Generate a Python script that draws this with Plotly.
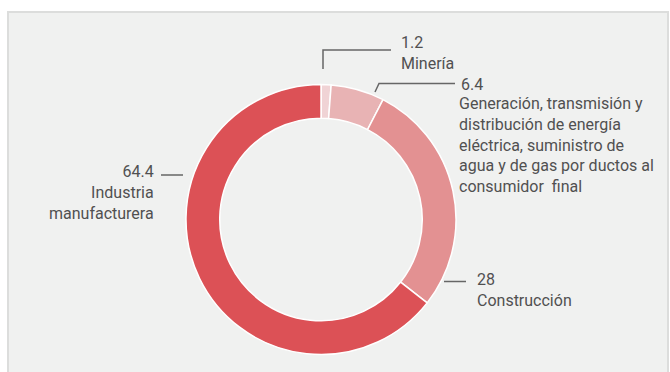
import plotly.graph_objects as go

# Participación por sector (%)
sectores = [
    "Minería",
    "Generación, transmisión y distribución de energía eléctrica, suministro de agua y de gas por ductos al consumidor  final",
    "Construcción",
    "Industria manufacturera",
]
valores = [1.2, 6.4, 28, 64.4]
colores = ["#f0d3d5", "#e8b3b4", "#e39192", "#dc5156"]

# Texto de las etiquetas (nombre partido en renglones)
etiquetas_lineas = [
    ["Minería"],
    ["Generación, transmisión y", "distribución de energía", "eléctrica, suministro de",
     "agua y de gas por ductos al", "consumidor  final"],
    ["Construcción"],
    ["Industria", "manufacturera"],
]

W, H = 670, 372
FONT = "Roboto, sans-serif"
SIZE = 16
PASO = 19.3  # separación deseada entre renglones (px)
TXT = "#505050"
LINE = "#666666"


def px(x):
    return x / W


def py(y):
    return 1 - y / H


fig = go.Figure()

cx, cy, r = 321, 219.5, 135
fig.add_trace(go.Pie(
    labels=sectores,
    values=valores,
    sort=False,
    direction="clockwise",
    rotation=0,
    hole=0.75,
    marker=dict(colors=colores, line=dict(color="white", width=1.5)),
    textinfo="none",
    hoverinfo="label+value",
    showlegend=False,
    domain=dict(x=[px(cx - r), px(cx + r)], y=[py(cy + r), py(cy - r)]),
))

annotations = []


def bloque(x, y0, lineas, anchor):
    """Coloca un bloque de renglones; y0 es el centro del primer renglón."""
    n = len(lineas)
    ymid = y0 + (n - 1) * PASO / 2
    annotations.append(dict(
        x=px(x), y=py(ymid), xref="paper", yref="paper",
        text="<br>".join(lineas), showarrow=False,
        xanchor=anchor, yanchor="middle", align=anchor,
        font=dict(family=FONT, size=SIZE, color=TXT),
    ))


def fmt(v):
    return f"{v:g}"


# Minería
bloque(399, 43, [fmt(valores[0])] + etiquetas_lineas[0], "left")
# Generación ...
bloque(459, 84, [fmt(valores[1])], "left")
bloque(457, 106.5, etiquetas_lineas[1], "left")
# Construcción
bloque(475, 280.5, [fmt(valores[2])] + etiquetas_lineas[2], "left")
# Industria manufacturera
bloque(156, 173, [fmt(valores[3])] + etiquetas_lineas[3], "right")

shapes = [
    # panel de fondo
    dict(type="rect", xref="paper", yref="paper", x0=px(8), x1=px(668), y0=py(380), y1=py(12),
         fillcolor="#f0f1f0", line=dict(color="#dcdddc", width=2), layer="below"),
]


def trazo(pts):
    path = "M " + " L ".join(f"{px(a)},{py(b)}" for a, b in pts)
    shapes.append(dict(type="path", xref="paper", yref="paper", path=path,
                       line=dict(color=LINE, width=1.5)))


trazo([(323, 69), (323, 50), (391, 50)])
trazo([(375, 92), (379, 83.5), (455, 83.5)])
trazo([(444, 281.5), (466, 281.5)])
trazo([(161, 175), (183, 175)])

fig.update_layout(
    width=W, height=H,
    margin=dict(l=0, r=0, t=0, b=0),
    paper_bgcolor="white",
    plot_bgcolor="white",
    annotations=annotations,
    shapes=shapes,
)

fig.write_html("out.html")
